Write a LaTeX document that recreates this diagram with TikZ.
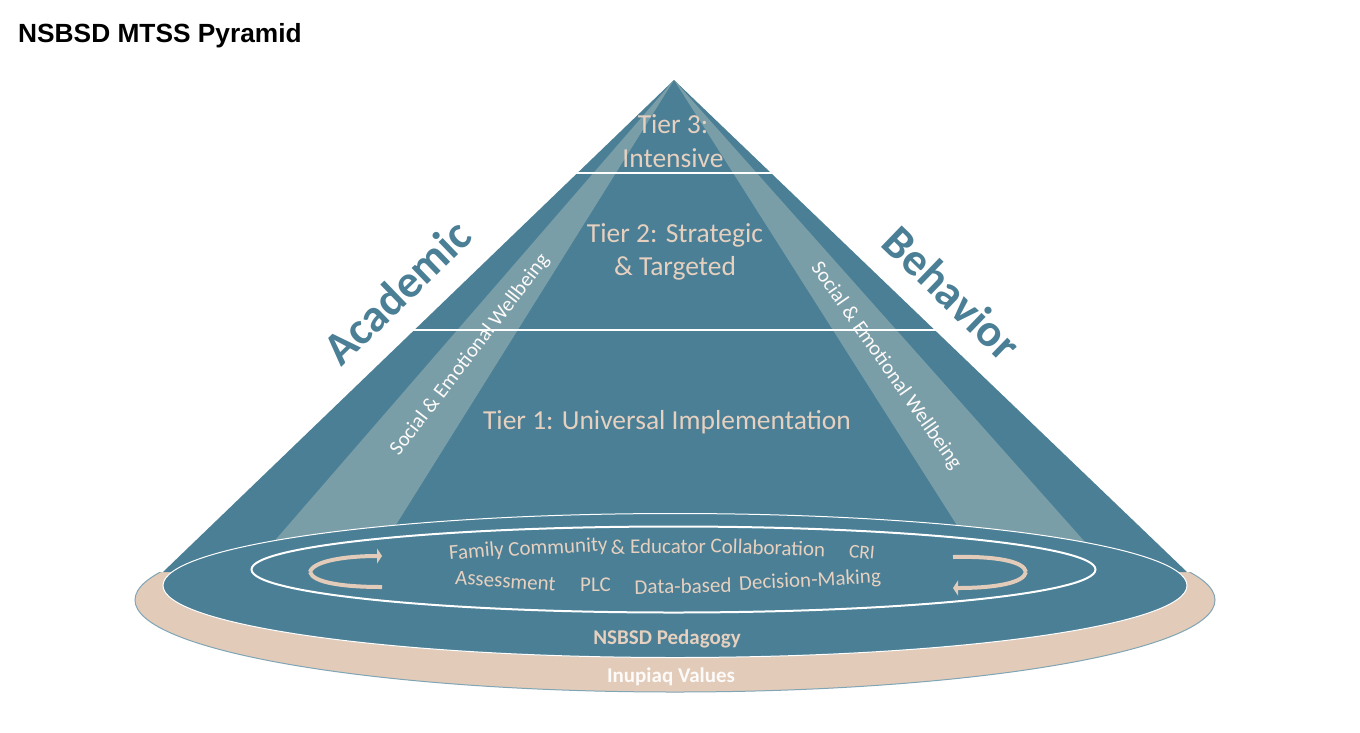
\documentclass[tikz,border=0pt]{standalone}
\usepackage{fontspec}
\setmainfont{Carlito}
\newfontfamily\titlefont{Liberation Sans}
\usetikzlibrary{arrows.meta}
\definecolor{teal1}{HTML}{4A7F96}
\definecolor{beam}{HTML}{7A9EA8}
\definecolor{tan1}{HTML}{E2CBB9}
\definecolor{txt}{HTML}{E6D0BF}
\tikzset{
  tierlabel/.style={text=txt,font=\fontsize{27.5}{27.5}\selectfont,inner sep=0pt},
  sidelabel/.style={text=teal1,font=\fontsize{46}{46}\selectfont\bfseries,inner sep=0pt},
  sewlabel/.style={text=white!90!txt,font=\fontsize{20.8}{20.8}\selectfont,inner sep=0pt},
  baselabel/.style={text=txt,font=\fontsize{21}{21}\selectfont,inner sep=0pt},
  tierline/.style={white,line width=2pt},
  looparrow/.style={tan1,line width=4pt,-{Triangle[width=15pt,length=5pt]}},
  loopbody/.style={tan1,line width=4pt},
}
\begin{document}
\begin{tikzpicture}[x=1pt,y=-1pt]
\useasboundingbox (0,0) rectangle (1360,732);
\fill[white] (0,0) rectangle (1360,732);
\node[anchor=west,inner sep=0pt,font=\titlefont\bfseries\fontsize{26.3}{26.3}\selectfont] (title) at (18,36) {NSBSD MTSS Pyramid};
% outer tan ellipse, only its lower part shows
\begin{scope}
  \clip (100,572) rectangle (1250,700);
  \draw[fill=tan1,draw=teal1!70!white,line width=1pt] (675,600) ellipse [x radius=540pt,y radius=92pt];
\end{scope}
% pyramid
\fill[teal1] (674,80) -- (1187,572) -- (163,572) -- cycle;
\fill[beam] (674,80) -- (258,560) -- (374,560) -- cycle;
\fill[beam] (674,80) -- (979,560) -- (1101,560) -- cycle;
% base ellipses
\draw[fill=teal1,draw=white,line width=1pt] (675,585.5) ellipse [x radius=512pt,y radius=72pt];
\draw[white,line width=2pt] (673.5,569.5) ellipse [x radius=422pt,y radius=43pt];
% tier lines
\coordinate (t3l) at (574,173); \coordinate (t3r) at (776,173);
\coordinate (t2l) at (410,330); \coordinate (t2r) at (936,330);
\draw[tierline] (t3l) -- (t3r);
\draw[tierline] (t2l) -- (t2r);
% tier texts
\node[tierlabel] (t3a) at (673,124.5) {Tier 3:};
\node[tierlabel] (t3b) at (673,158.5) {Intensive};
\node[tierlabel] (t2a) at (675,235) {Tier 2: Strategic};
\node[tierlabel] (t2b) at (675,268) {\& Targeted};
\node[tierlabel] (t1) at (667,422) {Tier 1: Universal Implementation};
% side labels
\node[sidelabel,rotate=44] (acad) at (397,292) {Academic};
\node[sidelabel,rotate=-44] (behav) at (952,293) {Behavior};
\node[sewlabel,rotate=52.5] (sewl) at (470,355) {Social \& Emotional Wellbeing};
\node[sewlabel,rotate=-55] (sewr) at (886,366) {Social \& Emotional Wellbeing};
% curved base texts, word by word along the ellipse
\node[baselabel,rotate=5] (w1) at (476.5,552) {Family};
\node[baselabel,rotate=3] (w2) at (558,548) {Community};
\node[baselabel,rotate=1] (w3) at (618,547) {\&};
\node[baselabel,rotate=0] (w4) at (668,546.5) {Educator};
\node[baselabel,rotate=-2] (w5) at (768,547.5) {Collaboration};
\node[baselabel,rotate=-4] (assess) at (505.5,581) {Assessment};
\node[baselabel] (plc) at (595.5,585) {PLC};
\node[baselabel,rotate=1] (w6) at (683,586) {Data-based};
\node[baselabel,rotate=3] (w7) at (810,581) {Decision-Making};
\node[baselabel,font=\fontsize{19.5}{19.5}\selectfont,rotate=-5] (cri) at (862,552) {CRI};
% loop arrows
\draw[looparrow] (310,572) .. controls (313,561) and (345,556) .. (382,556);
\draw[loopbody] (310,572) .. controls (313,583) and (345,587) .. (382,587);
\draw[loopbody] (953,557) .. controls (995,556) and (1024,561) .. (1026,572);
\draw[looparrow] (1026,572) .. controls (1024,583) and (995,588) .. (953,588);
% base labels
\node[text=txt,font=\fontsize{21}{21}\selectfont\bfseries,inner sep=0pt] (ped) at (667,638.5) {NSBSD Pedagogy};
\node[text=white!92!txt,font=\fontsize{21}{21}\selectfont\bfseries,inner sep=0pt] (inu) at (671,676.5) {Inupiaq Values};
\end{tikzpicture}
\end{document}
